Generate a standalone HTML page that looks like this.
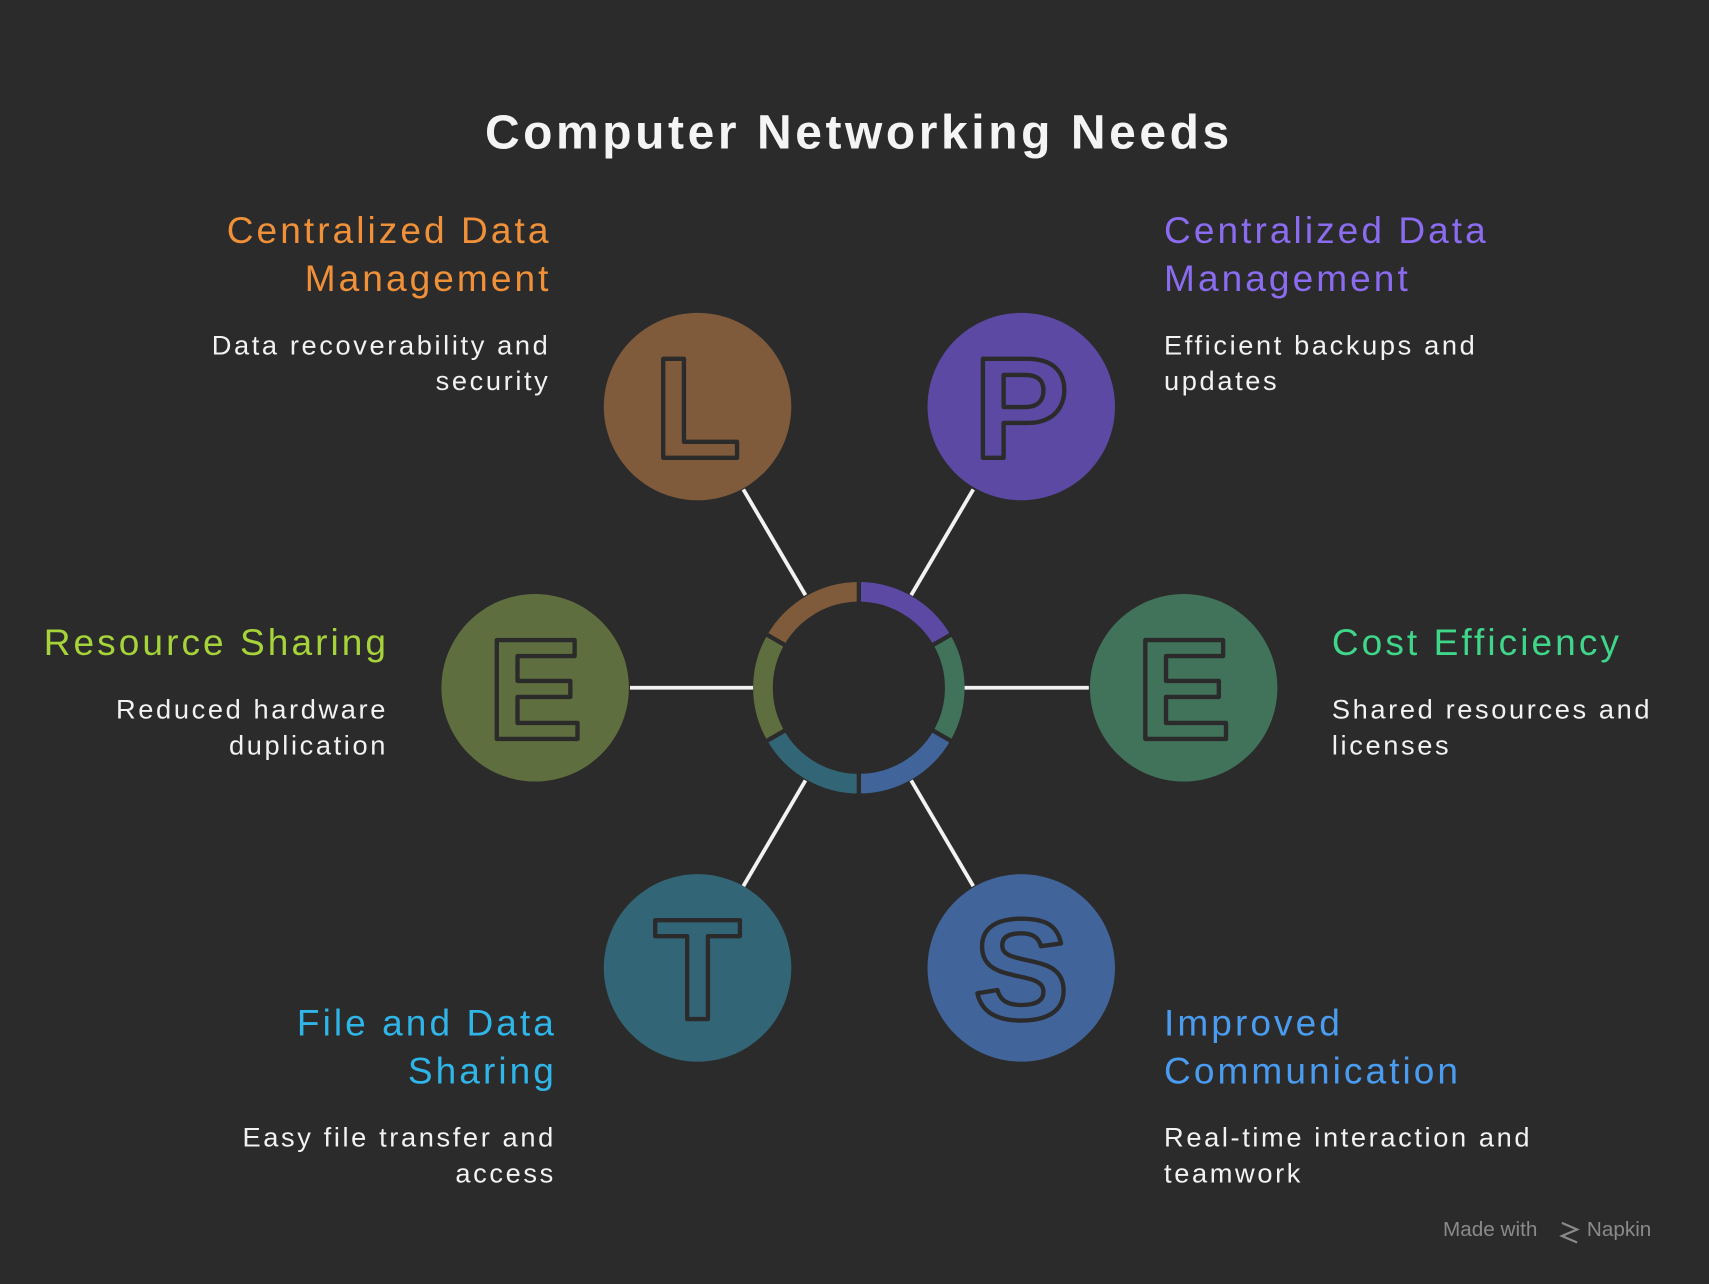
<!DOCTYPE html>
<html><head><style>
html,body{margin:0;padding:0;background:#2b2b2b;}
svg{display:block}
text{font-family:"Liberation Sans",sans-serif;}
</style></head><body>
<svg width="1709" height="1284" viewBox="0 0 1568 1178" xmlns="http://www.w3.org/2000/svg">
<rect width="1568" height="1178" fill="#2b2b2b"/>
<text x="788" y="136" text-anchor="middle" font-size="44" font-weight="bold" fill="#f4f4f4" letter-spacing="3.3">Computer Networking Needs</text>
<g stroke="#f2f2f2" stroke-width="3.5">
<line x1="682" y1="449" x2="739" y2="546"/>
<line x1="893" y1="449" x2="836" y2="546"/>
<line x1="578" y1="631" x2="691" y2="631"/>
<line x1="885" y1="631" x2="999" y2="631"/>
<line x1="682" y1="813" x2="739" y2="716"/>
<line x1="893" y1="813" x2="836" y2="716"/>
</g>
<g fill="none" stroke-width="18">
<path d="M788,543 A88,88 0 0 1 864.2,587" stroke="#5b49a3"/>
<path d="M864.2,587 A88,88 0 0 1 864.2,675" stroke="#41725a"/>
<path d="M864.2,675 A88,88 0 0 1 788,719" stroke="#41649a"/>
<path d="M788,719 A88,88 0 0 1 711.8,675" stroke="#326677"/>
<path d="M711.8,675 A88,88 0 0 1 711.8,587" stroke="#5f6e3e"/>
<path d="M711.8,587 A88,88 0 0 1 788,543" stroke="#7f5b3b"/>
</g>
<g stroke="#2b2b2b" stroke-width="4">
<line x1="788" y1="531" x2="788" y2="555"/><line x1="788" y1="707" x2="788" y2="731"/>
<line x1="874.6" y1="581" x2="853.8" y2="593"/><line x1="874.6" y1="681" x2="853.8" y2="669"/>
<line x1="701.4" y1="581" x2="722.2" y2="593"/><line x1="701.4" y1="681" x2="722.2" y2="669"/>
</g>
<circle cx="640" cy="373" r="86" fill="#7f5b3b"/>
<circle cx="937" cy="373" r="86" fill="#5b49a3"/>
<circle cx="491" cy="631" r="86" fill="#5f6e3e"/>
<circle cx="1086" cy="631" r="86" fill="#41725a"/>
<circle cx="640" cy="888" r="86" fill="#326677"/>
<circle cx="937" cy="888" r="86" fill="#41649a"/>
<g font-size="132" font-weight="bold" text-anchor="middle" stroke="#2b2b2b" stroke-width="4" stroke-linejoin="round">
<text x="640" y="420" fill="#7f5b3b">L</text>
<text x="937" y="420" fill="#5b49a3">P</text>
<text x="491" y="678" fill="#5f6e3e">E</text>
<text x="1086" y="678" fill="#41725a">E</text>
<text x="640" y="935" fill="#326677">T</text>
<text x="937" y="935" fill="#41649a">S</text>
</g>
<g font-size="34" letter-spacing="2.8">
<text x="506" y="223" text-anchor="end" fill="#f0913a">Centralized Data</text>
<text x="506" y="267" text-anchor="end" fill="#f0913a">Management</text>
<text x="1068" y="223" fill="#8b6cf0">Centralized Data</text>
<text x="1068" y="267" fill="#8b6cf0">Management</text>
<text x="357" y="601" text-anchor="end" fill="#a6d33a">Resource Sharing</text>
<text x="1222" y="601" fill="#3fd68a">Cost Efficiency</text>
<text x="511" y="950" text-anchor="end" fill="#2fb5e8">File and Data</text>
<text x="511" y="994" text-anchor="end" fill="#2fb5e8">Sharing</text>
<text x="1068" y="950" fill="#4a9cf0">Improved</text>
<text x="1068" y="994" fill="#4a9cf0">Communication</text>
</g>
<g font-size="25" fill="#f2f2f2" letter-spacing="2.4">
<text x="505" y="325" text-anchor="end">Data recoverability and</text>
<text x="505" y="358" text-anchor="end">security</text>
<text x="1068" y="325">Efficient backups and</text>
<text x="1068" y="358">updates</text>
<text x="356" y="659" text-anchor="end">Reduced hardware</text>
<text x="356" y="692" text-anchor="end">duplication</text>
<text x="1222" y="659">Shared resources and</text>
<text x="1222" y="692">licenses</text>
<text x="510" y="1052" text-anchor="end">Easy file transfer and</text>
<text x="510" y="1085" text-anchor="end">access</text>
<text x="1068" y="1052">Real-time interaction and</text>
<text x="1068" y="1085">teamwork</text>
</g>
<text x="1324" y="1134" font-size="19" fill="#8a8a8a">Made with</text>
<path d="M1433,1122 l14,6 -14,6 14,6" stroke="#8a8a8a" stroke-width="2" fill="none"/>
<text x="1456" y="1134" font-size="19" fill="#8a8a8a">Napkin</text>
</svg>
</body></html>
